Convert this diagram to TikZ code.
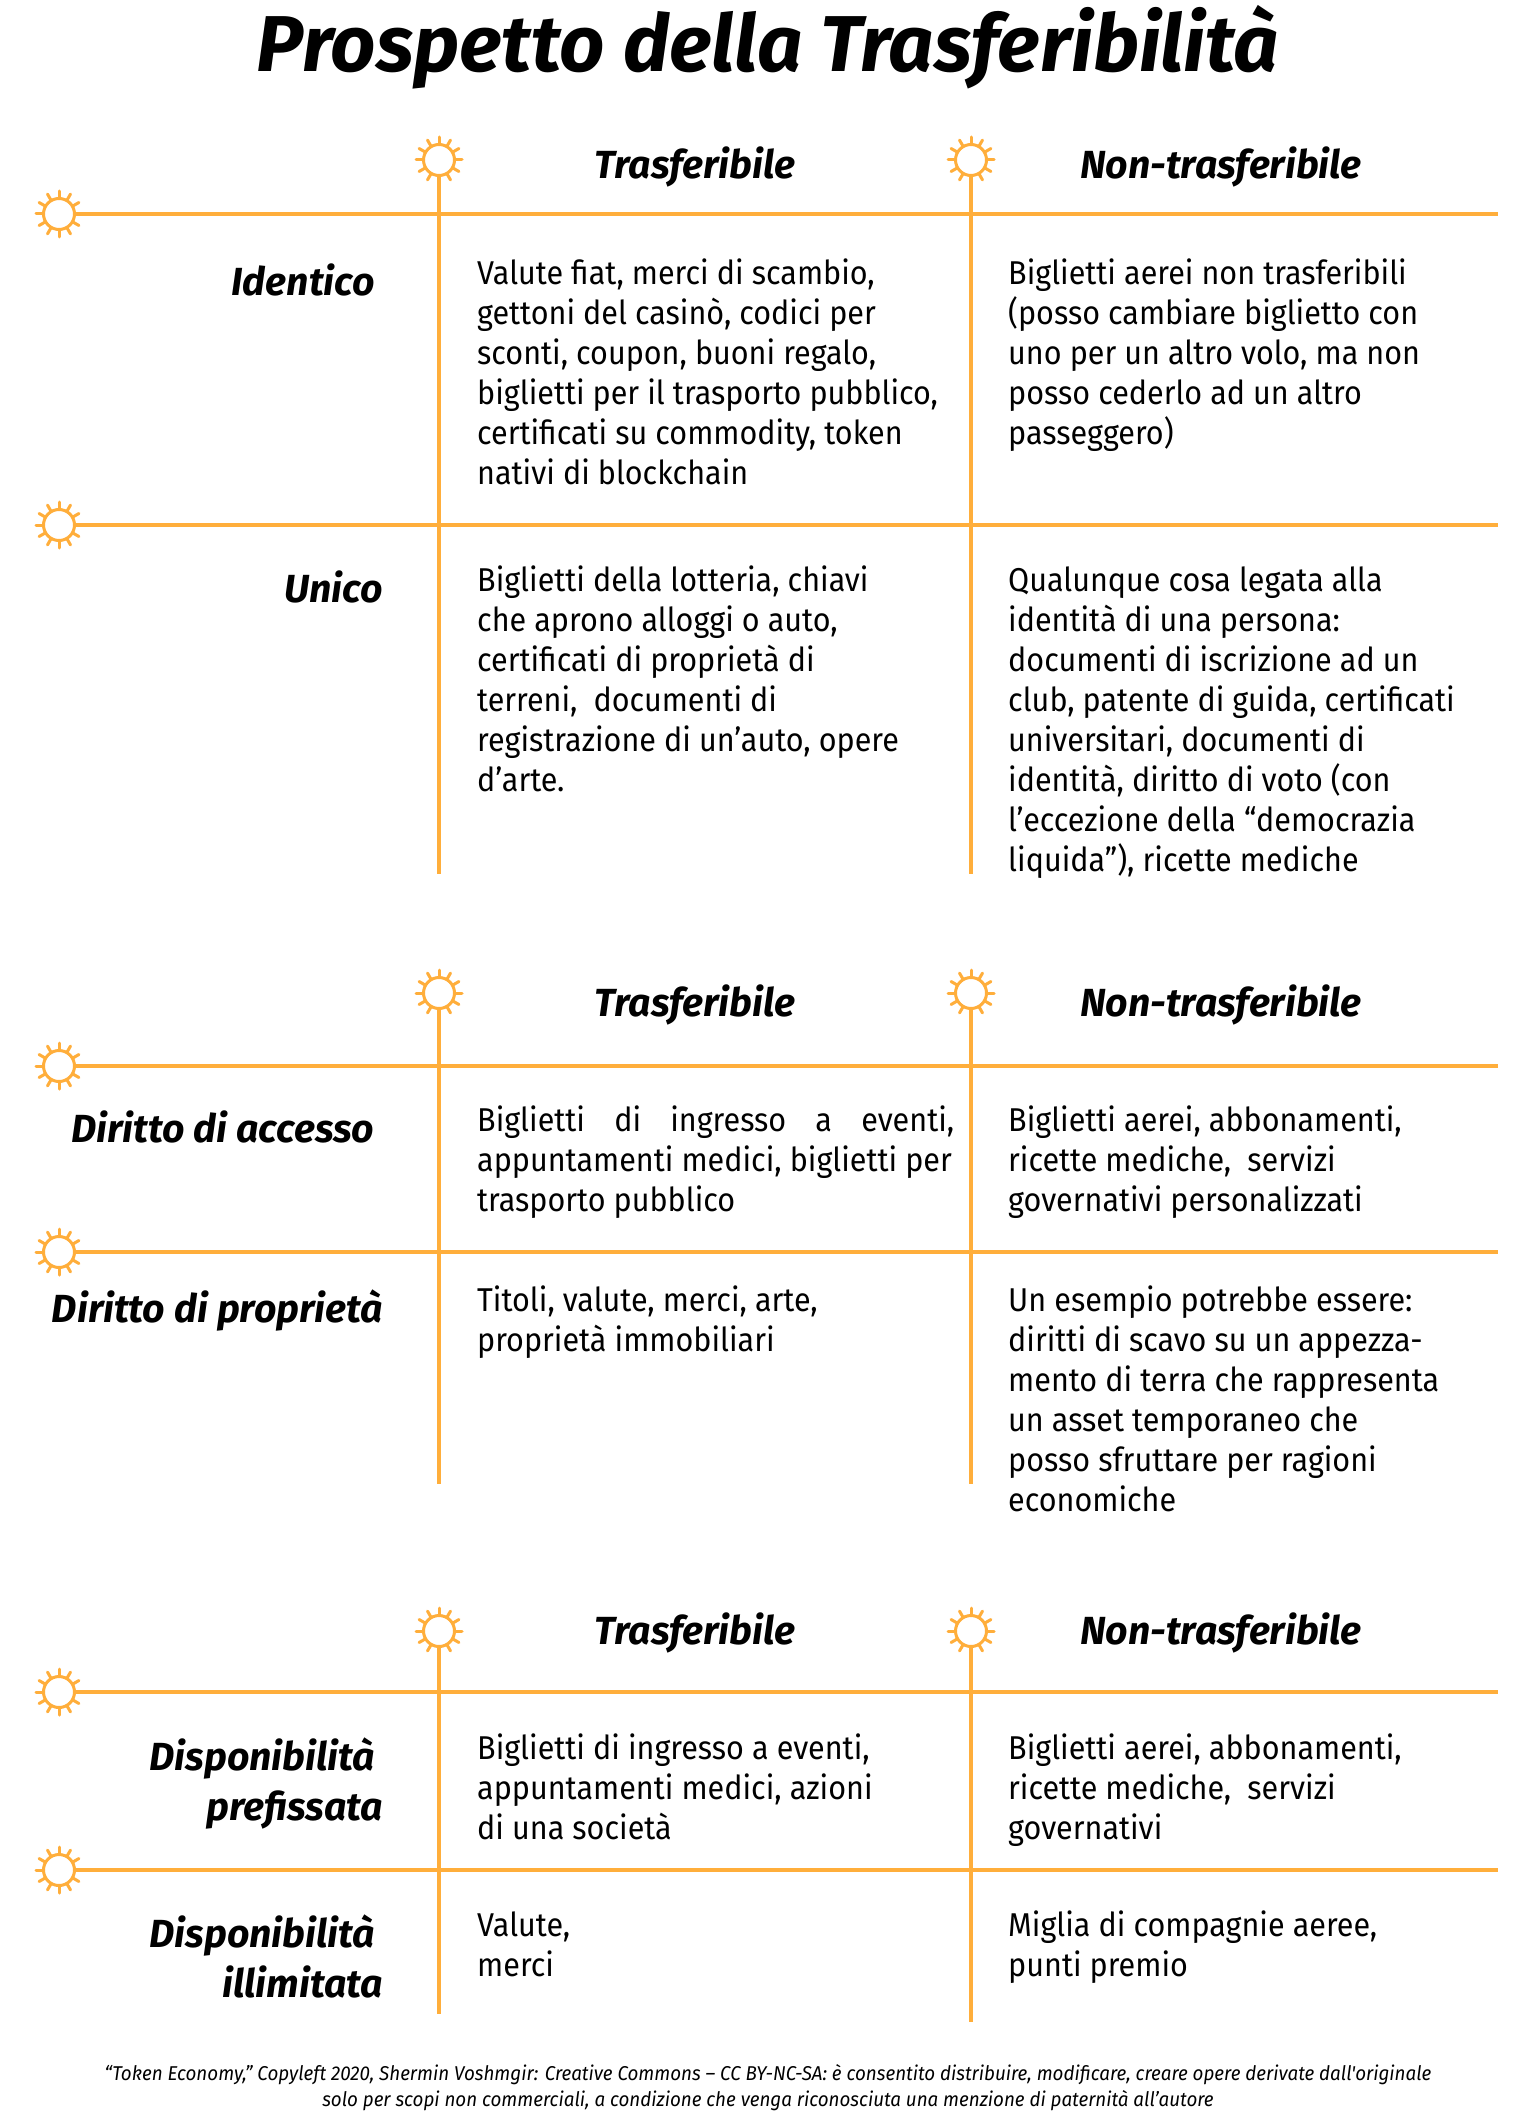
\documentclass[tikz,border=0pt]{standalone}
\usepackage{fontspec}
\setmainfont{Fira Sans}[FakeStretch=0.925]
\newfontfamily\headfont{Fira Sans}[FakeStretch=1.0]
\newfontfamily\footfont{Fira Sans}[FakeStretch=0.94]
\definecolor{sunorange}{HTML}{FFAE3B}
\tikzset{
  x=1pt,y=-1pt,
  rule/.style={draw=sunorange,line width=3.2pt},
  sunhub/.style={circle,draw=sunorange,line width=3pt,minimum size=31pt,inner sep=0pt,fill=white},
  body/.style={anchor=north west,inner sep=0pt,align=left,font=\fontsize{33}{40}\selectfont},
  colhead/.style={anchor=base,inner sep=0pt,font=\headfont\bfseries\itshape\fontsize{39.2}{44}\selectfont},
  rowhead/.style={anchor=north east,inner sep=0pt,align=right,font=\headfont\bfseries\itshape\fontsize{39.2}{50}\selectfont},
  foot/.style={anchor=base,inner sep=0pt,font=\footfont\itshape\fontsize{20}{26}\selectfont}
}
\newcommand{\sunat}[3]{%
  \node[sunhub] (#1) at (#2,#3) {};
  \foreach \a in {0,30,...,330}{\draw[sunorange,line width=3pt,line cap=round] (#1.center)++(\a:16.5pt) -- ++(\a:6.5pt);}
}
\newcommand{\tabblock}[7]{% prefix, ytop sun, yline1, yline2, yend1, yend2, head baseline
  \sunat{#1a}{439}{#2}
  \sunat{#1b}{971}{#2}
  \sunat{#1c}{59}{#3}
  \sunat{#1d}{59}{#4}
  \coordinate (#1e) at (1498,#3);
  \coordinate (#1f) at (1498,#4);
  \coordinate (#1g) at (439,#5);
  \coordinate (#1h) at (971,#6);
  \draw[rule] (#1c) -- (#1e);
  \draw[rule] (#1d) -- (#1f);
  \draw[rule] (#1a) -- (#1g);
  \draw[rule] (#1b) -- (#1h);
  \node[colhead] (#1t) at (695,#7) {Trasferibile};
  \node[colhead] (#1n) at (1221,#7) {Non-trasferibile};
}
\begin{document}
\begin{tikzpicture}
\useasboundingbox (0,0) rectangle (1536,2124);
\fill[white] (0,0) rectangle (1536,2124);
\node[anchor=base,inner sep=0pt,font=\headfont\bfseries\itshape\fontsize{79.2}{84}\selectfont] (title) at (768,71.5) {Prospetto della Trasferibilità};

\tabblock{p}{160}{214}{525}{874}{874}{179}
\tabblock{q}{993}{1066}{1252}{1484}{1484}{1016}
\tabblock{r}{1631}{1692}{1870}{2014}{2022}{1644}

\node[rowhead] (r1) at (375,260) {\strut Identico};
\node[rowhead] (r2) at (383,567) {\strut Unico};
\node[rowhead] (r3) at (374.5,1107) {\strut Diritto di accesso};
\node[rowhead] (r4) at (383,1287) {\strut Diritto di proprietà};
\node[rowhead] (r5) at (383,1735) {\strut\mbox{Disponibilità\kern8pt}\\prefissata};
\node[rowhead] (r6) at (383,1912) {\strut\mbox{Disponibilità\kern8pt}\\illimitata};

\node[body] (c1) at (477,256.5) {\strut Valute fiat, merci di scambio,\\gettoni del casinò, codici per\\sconti, coupon, buoni regalo,\\biglietti per il trasporto pubblico,\\certificati su commodity, token\\nativi di blockchain};
\node[body] (c2) at (1008,256.5) {\strut Biglietti aerei non trasferibili\\(posso cambiare biglietto con\\uno per un altro volo, ma non\\posso cederlo ad un altro\\passeggero)};
\node[body] (c3) at (477,563.5) {\strut Biglietti della lotteria, chiavi\\che aprono alloggi o auto,\\certificati di proprietà di\\terreni,\ \ documenti di\\registrazione di un’auto, opere\\d’arte.};
\node[body] (c4) at (1008,563.5) {\strut Qualunque cosa legata alla\\identità di una persona:\\documenti di iscrizione ad un\\club, patente di guida, certificati\\universitari, documenti di\\identità, diritto di voto (con\\l’eccezione della “democrazia\\liquida”), ricette mediche};
\node[body] (c5) at (477,1103.5) {\makebox[477pt][s]{\strut Biglietti di ingresso a eventi,}\\appuntamenti medici, biglietti per\\trasporto pubblico};
\node[body] (c6) at (1008,1103.5) {\strut Biglietti aerei, abbonamenti,\\ricette mediche,\ \ servizi\\governativi personalizzati};
\node[body] (c7) at (477,1283.5) {\strut Titoli, valute, merci, arte,\\proprietà immobiliari};
\node[body] (c8) at (1008,1283.5) {\strut Un esempio potrebbe essere:\\diritti di scavo su un appezza-\\mento di terra che rappresenta\\un asset temporaneo che\\posso sfruttare per ragioni\\economiche};
\node[body] (c9) at (477,1731) {\strut Biglietti di ingresso a eventi,\\appuntamenti medici, azioni\\di una società};
\node[body] (c10) at (1008,1731) {\strut Biglietti aerei, abbonamenti,\\ricette mediche,\ \ servizi\\governativi};
\node[body] (c11) at (477,1908.5) {\strut Valute,\\merci};
\node[body] (c12) at (1008,1908.5) {\strut Miglia di compagnie aeree,\\punti premio};

\node[foot] (f1) at (768,2080) {“Token Economy,” Copyleft 2020, Shermin Voshmgir: Creative Commons – CC BY-NC-SA: è consentito distribuire, modificare, creare opere derivate dall'originale};
\node[foot] (f2) at (768,2106) {solo per scopi non commerciali, a condizione che venga riconosciuta una menzione di paternità all’autore};
\end{tikzpicture}
\end{document}
